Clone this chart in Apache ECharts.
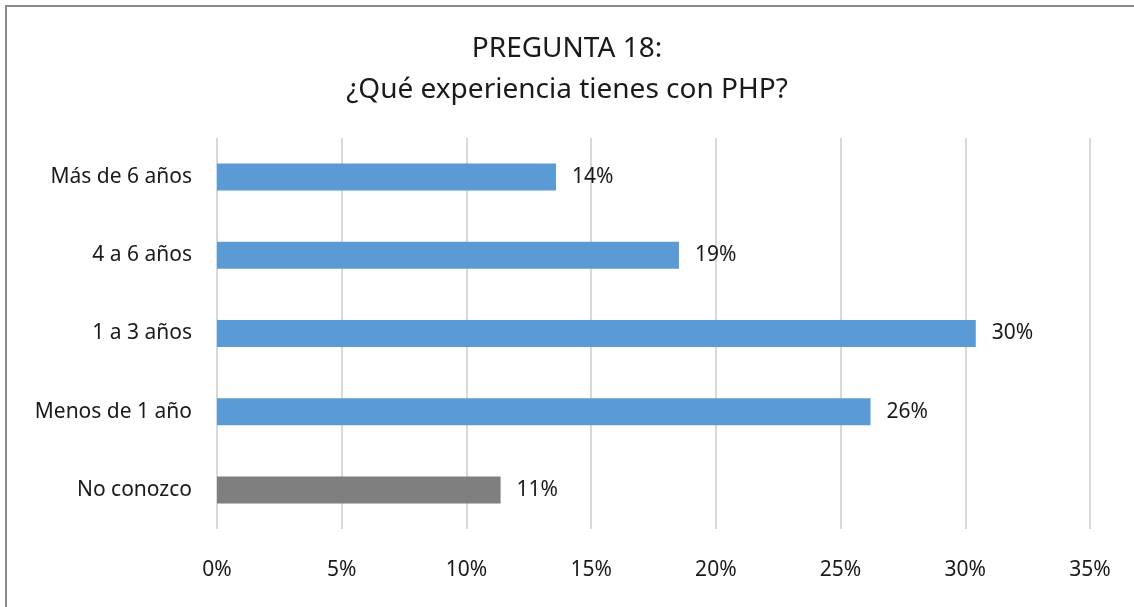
<!DOCTYPE html>
<html>
<head>
<meta charset="utf-8">
<script src="https://cdn.jsdelivr.net/npm/echarts@6/dist/echarts.min.js"></script>
<style>
html,body{margin:0;padding:0;background:#fff;overflow:hidden;}
#chart{width:1134px;height:607px;}
</style>
</head>
<body>
<div id="chart"></div>
<script>
const titleLines = ["PREGUNTA 18:", "¿Qué experiencia tienes con PHP?"];
const categories = ["No conozco", "Menos de 1 año", "1 a 3 años", "4 a 6 años", "Más de 6 años"];
const values = [11.37, 26.2, 30.42, 18.52, 13.59];
const barColors = ["#7f7f7f", "#5b9bd5", "#5b9bd5", "#5b9bd5", "#5b9bd5"];
const axisMin = 0, axisMax = 35, axisStep = 5;

const FONT = "Noto Sans";
const chart = echarts.init(document.getElementById('chart'));
chart.setOption({
  backgroundColor: '#fff',
  animation: false,
  title: {
    text: titleLines.join('\n'),
    left: 'center',
    top: 24,
    textStyle: { fontFamily: FONT, fontSize: 28, fontWeight: 'normal', color: '#1a1a1a', lineHeight: 41 }
  },
  graphic: [{
    type: 'polyline',
    shape: { points: [[6, 607], [6, 6], [1134, 6]] },
    style: { fill: 'none', stroke: '#8a8a8a', lineWidth: 2 },
    silent: true
  }],
  grid: { left: 217, right: 44, top: 138, bottom: 78 },
  xAxis: {
    type: 'value',
    min: axisMin, max: axisMax, interval: axisStep,
    axisLine: { show: false },
    axisTick: { show: false },
    splitLine: { show: true, lineStyle: { color: '#d9d9d9', width: 2 } },
    axisLabel: { formatter: '{value}%', margin: 31, fontFamily: FONT, fontSize: 21, color: '#1a1a1a' }
  },
  yAxis: {
    type: 'category',
    data: categories,
    axisLine: { show: false },
    axisTick: { show: false },
    axisLabel: { margin: 25, fontFamily: FONT, fontSize: 21, color: '#1a1a1a' }
  },
  series: [{
    type: 'bar',
    barWidth: 27,
    data: values.map((v, i) => ({ value: v, itemStyle: { color: barColors[i] } })),
    label: {
      show: true,
      position: 'right',
      distance: 16,
      fontFamily: FONT, fontSize: 21, color: '#1a1a1a',
      formatter: p => Math.round(p.value) + '%'
    }
  }]
});
</script>
</body>
</html>
